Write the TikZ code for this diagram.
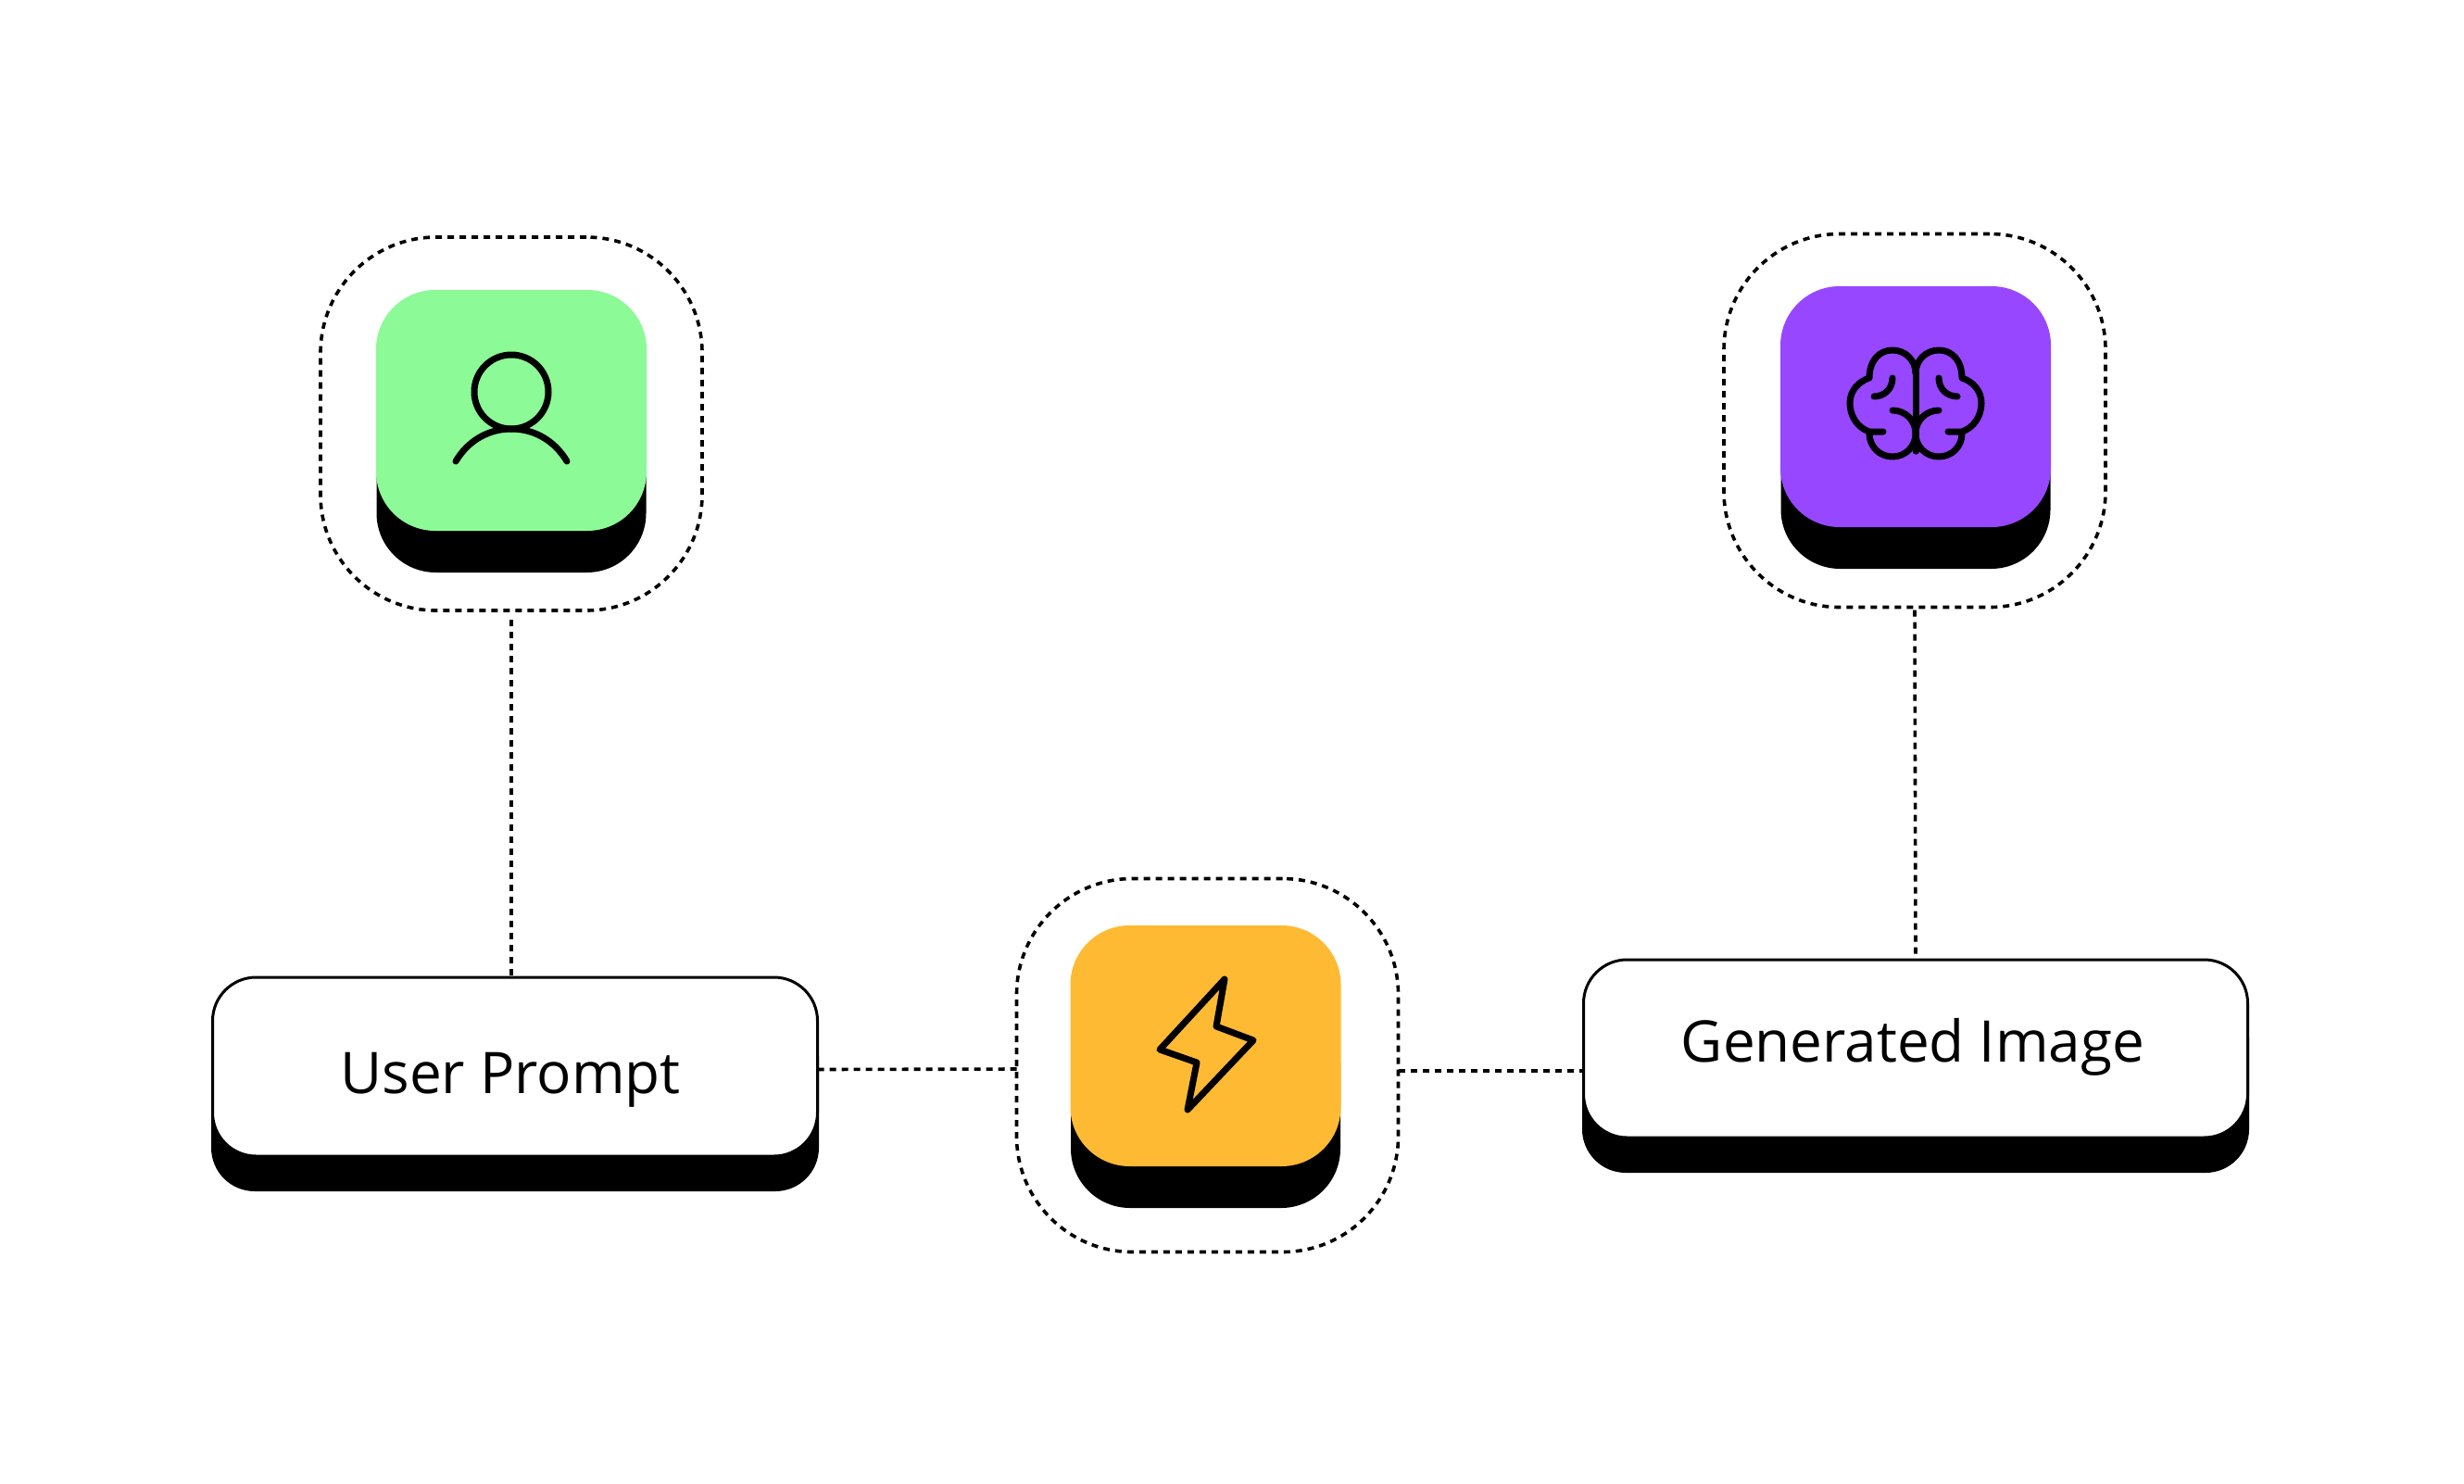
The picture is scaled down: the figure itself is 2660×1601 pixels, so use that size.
\documentclass[tikz,border=0pt]{standalone}
\usepackage{fontspec}
\setmainfont{Open Sans}
\definecolor{tilegreen}{HTML}{8CFA96}
\definecolor{tilepurple}{HTML}{9747FF}
\definecolor{tileorange}{HTML}{FFBA33}
\tikzset{
  tile/.style={rectangle,inner sep=0pt,outer sep=0pt,minimum width=292pt,minimum height=260pt,rounded corners=64pt,fill=#1},
  tileshadow/.style={rectangle,inner sep=0pt,outer sep=0pt,minimum width=291pt,minimum height=220pt,rounded corners=64pt,fill=black},
  ring/.style={rectangle,inner sep=0pt,outer sep=0pt,minimum width=412pt,minimum height=403pt,rounded corners=125pt,draw,line width=3.6pt,dash pattern=on 7pt off 6pt},
  wire/.style={line width=3.6pt,dash pattern=on 7pt off 6pt},
  plate/.style={rectangle,inner sep=0pt,outer sep=0pt,rounded corners=47pt,fill=#1},
  word/.style={anchor=base,inner sep=0pt,font=\fontsize{62}{70}\selectfont},
  glyph/.style={line width=7pt,line cap=round,line join=round}
}
\begin{document}
\begin{tikzpicture}[x=1pt,y=-1pt]
\useasboundingbox (0,0) rectangle (2660,1601);

% rings
\node[ring] (userring) at (552,457.5) {};
\node[ring] (brainring) at (2067,454) {};
\node[ring] (flashring) at (1303.5,1150) {};

% tiles
\node[tileshadow] (usershadow) at (552,508) {};
\node[tile=tilegreen] (usertile) at (552,443) {};
\node[tileshadow] (brainshadow) at (2068,504) {};
\node[tile=tilepurple] (braintile) at (2068,439) {};
\node[tileshadow] (flashshadow) at (1301.5,1194) {};
\node[tile=tileorange] (flashtile) at (1301.5,1129) {};

% boxes
\node[plate=black,minimum width=656pt,minimum height=193pt] (usershadowbox) at (556,1189.5) {};
\node[plate=white,draw=black,line width=3pt,minimum width=653pt,minimum height=193pt] (userbox) at (556,1151.5) {};
\node[plate=black,minimum width=720pt,minimum height=192pt] (genshadowbox) at (2068,1170) {};
\node[plate=white,draw=black,line width=3pt,minimum width=717pt,minimum height=192pt] (genbox) at (2068,1132) {};

\node[word] (userlabel) at (551,1180) {User Prompt};
\node[word] (genlabel) at (2065,1146) {Generated Image};

% connectors
\draw[wire] ([yshift=-10pt]userring.south) -- (userbox.north -| userring.south);
\draw[wire] ([yshift=-3pt]brainring.south) -- (genbox.north);
\draw[wire] ([yshift=-3pt]userbox.east) -- ([yshift=-4pt]flashring.west);
\draw[wire] ([yshift=-6pt]flashring.east) -- ([yshift=-24pt]genbox.west);

% person
\draw[glyph] (552,423) circle (40);
\draw[glyph] (492,498) .. controls (505,476) and (527,463) .. (552,463) .. controls (577,463) and (599,476) .. (612,498);

% brain
\foreach \side in {1,-1} {
\begin{scope}[shift={(2068,340)},xscale=\side]
\draw[glyph] (0,53) -- (0,147);
\draw[glyph] (0,63) .. controls (0,49) and (-11,38) .. (-25,38) .. controls (-39,38) and (-50,49) .. (-50,68) .. controls (-62,72) and (-71,82) .. (-71,95) .. controls (-71,110) and (-62,122) .. (-50,126) -- (-35,126);
\draw[glyph] (-50,126) -- (-50,128) .. controls (-50,142) and (-39,153) .. (-25,153) .. controls (-11,153) and (0,142) .. (0,128) .. controls (0,114) and (-11,103) .. (-25,103);
\draw[glyph] (-25,68) .. controls (-25,80) and (-34,88) .. (-45,88);
\end{scope}
}

% bolt
\draw[glyph] (1322,1057) -- (1313,1108) -- (1353,1123) -- (1282,1198) -- (1292,1147) -- (1252,1133) -- cycle;
\end{tikzpicture}
\end{document}
